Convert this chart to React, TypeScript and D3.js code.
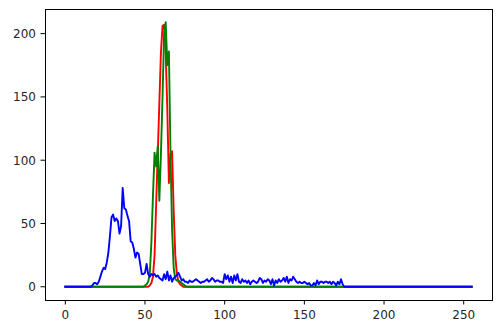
import React from "react";
import * as d3 from "d3";

// Histogram bins 0..255 (12 rows of 20 + 16)
const redCounts: number[] = [
  0,0,0,0,0,0,0,0,0,0, 0,0,0,0,0,0,0,0,0,0,
  0,0,0,0,0,0,0,0,0,0, 0,0,0,0,0,0,0,0,0,0,
  0,0,0,0,0,0,0,0,0,0, 0,0,0,1,3,8,25,65,105,145,
  185,206,207,185,140,82,105,107,60,25, 10,4,2,1,0,0,0,0,0,0,
  0,0,0,0,0,0,0,0,0,0, 0,0,0,0,0,0,0,0,0,0,
  0,0,0,0,0,0,0,0,0,0, 0,0,0,0,0,0,0,0,0,0,
  0,0,0,0,0,0,0,0,0,0, 0,0,0,0,0,0,0,0,0,0,
  0,0,0,0,0,0,0,0,0,0, 0,0,0,0,0,0,0,0,0,0,
  0,0,0,0,0,0,0,0,0,0, 0,0,0,0,0,0,0,0,0,0,
  0,0,0,0,0,0,0,0,0,0, 0,0,0,0,0,0,0,0,0,0,
  0,0,0,0,0,0,0,0,0,0, 0,0,0,0,0,0,0,0,0,0,
  0,0,0,0,0,0,0,0,0,0, 0,0,0,0,0,0,0,0,0,0,
  0,0,0,0,0,0,0,0,0,0, 0,0,0,0,0,0,
];

const greenCounts: number[] = [
  0,0,0,0,0,0,0,0,0,0, 0,0,0,0,0,0,0,0,0,0,
  0,0,0,0,0,0,0,0,0,0, 0,0,0,0,0,0,0,0,0,0,
  0,0,0,0,0,0,0,0,0,0, 1,2,4,10,35,72,106,95,111,68,
  105,150,200,209,175,186,105,45,15,6, 5,5,4,3,2,1,0,0,0,0,
  0,0,0,0,0,0,0,0,0,0, 0,0,0,0,0,0,0,0,0,0,
  0,0,0,0,0,0,0,0,0,0, 0,0,0,0,0,0,0,0,0,0,
  0,0,0,0,0,0,0,0,0,0, 0,0,0,0,0,0,0,0,0,0,
  0,0,0,0,0,0,0,0,0,0, 0,0,0,0,0,0,0,0,0,0,
  0,0,0,0,0,0,0,0,0,0, 0,0,0,0,0,0,0,0,0,0,
  0,0,0,0,0,0,0,0,0,0, 0,0,0,0,0,0,0,0,0,0,
  0,0,0,0,0,0,0,0,0,0, 0,0,0,0,0,0,0,0,0,0,
  0,0,0,0,0,0,0,0,0,0, 0,0,0,0,0,0,0,0,0,0,
  0,0,0,0,0,0,0,0,0,0, 0,0,0,0,0,0,
];

const blueCounts: number[] = [
  0,0,0,0,0,0,0,0,0,0, 0,0,0,0,0,0,0,1,3,3,
  2,4,8,12,15,14,19,27,40,55, 57,52,54,52,42,48,78,62,61,56,
  52,36,35,30,23,27,26,18,10,10, 11,18,10,8,10,9,10,8,9,7,
  6,5,10,6,12,5,9,4,7,8, 9,11,8,5,6,4,4,3,5,4,
  4,5,6,5,4,3,4,4,5,6, 4,5,7,6,4,5,5,4,4,3,
  10,6,9,4,8,3,9,5,10,4, 3,6,4,5,3,5,2,4,5,4,
  3,4,7,6,3,5,4,6,5,2, 6,1,5,3,6,4,5,7,4,8,
  3,6,5,8,6,4,3,4,3,3, 4,3,2,3,1,1,3,1,5,2,
  4,4,3,4,4,3,4,2,4,3, 1,4,2,6,2,0,0,0,0,0,
  0,0,0,0,0,0,0,0,0,0, 0,0,0,0,0,0,0,0,0,0,
  0,0,0,0,0,0,0,0,0,0, 0,0,0,0,0,0,0,0,0,0,
  0,0,0,0,0,0,0,0,0,0, 0,0,0,0,0,0,0,0,0,0,
  0,0,0,0,0,0,0,0,0,0, 0,0,0,0,0,0,
];

const xTicks = [0, 50, 100, 150, 200, 250];
const yTicks = [0, 50, 100, 150, 200];

const W = 500;
const H = 331;
const left = 45;
const right = 492;
const top = 9;
const bottom = 300;

export default function App() {
  const maxVal = d3.max([...redCounts, ...greenCounts, ...blueCounts]) as number;
  const n = blueCounts.length - 1;
  const xPad = n * 0.05;
  const yPad = maxVal * 0.05;
  const x = d3.scaleLinear().domain([-xPad, n + xPad]).range([left, right]);
  const y = d3.scaleLinear().domain([-yPad, maxVal + yPad]).range([bottom, top]);
  const line = d3
    .line<number>()
    .x((_, i) => x(i))
    .y((d) => y(d));

  const series = [
    { data: redCounts, color: "#ff0000" },
    { data: greenCounts, color: "#008000" },
    { data: blueCounts, color: "#0000ff" },
  ];

  const font = "'DejaVu Sans', sans-serif";
  return (
    <svg
      width={W}
      height={H}
      style={{ position: "absolute", left: 0, top: 0, background: "#fff" }}
    >
      <rect x={0} y={0} width={W} height={H} fill="#fff" />
      <defs>
        <clipPath id="plotclip">
          <rect x={left} y={top} width={right - left} height={bottom - top} />
        </clipPath>
      </defs>
      <g clipPath="url(#plotclip)">
        {series.map((s, i) => (
          <path
            key={i}
            d={line(s.data) || ""}
            fill="none"
            stroke={s.color}
            strokeWidth={1.9}
            strokeLinejoin="round"
            strokeLinecap="square"
          />
        ))}
      </g>
      <rect
        x={left}
        y={top}
        width={right - left}
        height={bottom - top}
        fill="none"
        stroke="#000"
        strokeWidth={1}
        shapeRendering="crispEdges"
      />
      {xTicks.map((t) => (
        <g key={"x" + t}>
          <line x1={x(t)} x2={x(t)} y1={bottom} y2={bottom + 4.5} stroke="#000" strokeWidth={1} />
          <text
            x={x(t)}
            y={bottom + 19}
            textAnchor="middle"
            fontSize={12}
            fontFamily={font}
            fill="#262626"
          >
            {t}
          </text>
        </g>
      ))}
      {yTicks.map((t) => (
        <g key={"y" + t}>
          <line x1={left - 4.5} x2={left} y1={y(t)} y2={y(t)} stroke="#000" strokeWidth={1} />
          <text
            x={left - 9}
            y={y(t)}
            dy="0.36em"
            textAnchor="end"
            fontSize={12}
            fontFamily={font}
            fill="#262626"
          >
            {t}
          </text>
        </g>
      ))}
    </svg>
  );
}
